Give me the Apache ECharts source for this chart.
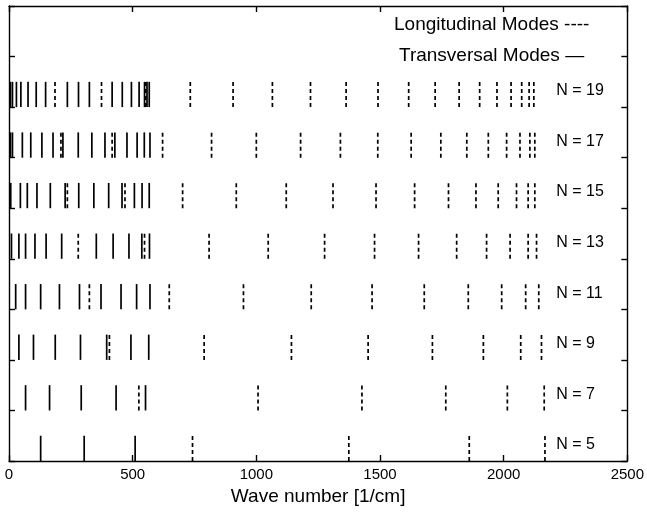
<!DOCTYPE html>
<html>
<head>
<meta charset="utf-8">
<script src="https://cdn.jsdelivr.net/npm/echarts@6/dist/echarts.min.js"></script>
<style>
html,body{margin:0;padding:0;background:#fff;}
#c{width:647px;height:512px;}
</style>
</head>
<body>
<div id="c"></div>
<script>
// ---- data (wave numbers in 1/cm) ----
const rowLabels = ['N = 5', 'N = 7', 'N = 9', 'N = 11', 'N = 13', 'N = 15', 'N = 17', 'N = 19'];

const trans5  = [128, 304, 510];
const long5   = [742, 1374, 1861, 2167];
const trans7  = [67, 164, 292, 433, 552];
const long7   = [525, 1007, 1427, 1766, 2015, 2164];
const trans9  = [40, 99, 187, 289, 395, 493, 565];
const long9   = [406, 789, 1142, 1452, 1712, 1918, 2069, 2153];
const trans11 = [27, 67, 128, 204, 285, 372, 453, 516, 570];
const long11  = [325, 648, 948, 1222, 1468, 1679, 1857, 1992, 2089, 2142];
const trans13 = [10, 40, 67, 105, 150, 213, 353, 421, 485, 537, 568];
const long13  = [280, 548, 809, 1048, 1276, 1478, 1656, 1810, 1931, 2026, 2099, 2133];
const trans15 = [7, 46, 74, 113, 167, 227, 282, 343, 403, 457, 507, 538, 567];
const long15  = [236, 469, 702, 919, 1121, 1310, 1484, 1640, 1777, 1888, 1978, 2052, 2099, 2126];
const trans17 = [6, 14, 54, 88, 133, 178, 218, 280, 335, 388, 428, 477, 518, 547, 570];
const long17  = [210, 417, 621, 819, 1000, 1179, 1340, 1491, 1626, 1746, 1851, 1938, 2012, 2066, 2106, 2126];
const trans19 = [6, 14, 30, 48, 77, 110, 148, 236, 281, 325, 417, 458, 495, 526, 548, 558, 567];
const long19  = [186, 374, 553, 733, 906, 1065, 1219, 1363, 1492, 1616, 1723, 1820, 1903, 1973, 2030, 2073, 2103, 2122];

const xMin = 0, xMax = 2500, xStep = 500;
const yMin = 0, yMax = 9, yStep = 1;

const legendLong = 'Longitudinal Modes ----';
const legendTrans = 'Transversal Modes \u2014';
const xTitle = 'Wave number [1/cm]';

// ---- build series data ----
const transRows = [trans5, trans7, trans9, trans11, trans13, trans15, trans17, trans19];
const longRows  = [long5, long7, long9, long11, long13, long15, long17, long19];
const transData = [];
transRows.forEach((arr, k) => arr.forEach(v => transData.push([v, k])));
const longData = [];
longRows.forEach((arr, k) => arr.forEach(v => longData.push([v, k])));
const labelData = rowLabels.map((s, k) => [xMax, k, s]);

const FONT = '"Liberation Sans", Arial, Helvetica, sans-serif';
const BAR_H = 0.5; // height of each mode mark in row units

function modeRenderer(dash) {
  return function (params, api) {
    const x = api.value(0), k = api.value(1);
    const p0 = api.coord([x, k]);
    const p1 = api.coord([x, k + BAR_H]);
    return {
      type: 'line',
      silent: true,
      shape: { x1: p0[0], y1: p0[1], x2: p1[0], y2: p1[1] },
      style: { stroke: '#000', lineWidth: 1.7, lineDash: dash }
    };
  };
}

function labelRenderer(params, api) {
  const k = api.value(1);
  const p = api.coord([api.value(0), k + 0.25]);
  return {
    type: 'text',
    silent: true,
    x: p[0] - 71,
    y: p[1] - 3.5,
    style: {
      text: rowLabels[params.dataIndex],
      fill: '#000',
      font: '16px ' + FONT,
      align: 'left',
      verticalAlign: 'middle'
    }
  };
}

const axisLine = { show: true, onZero: false, lineStyle: { color: '#000', width: 1.4 } };
const axisTick = { show: true, inside: true, length: 6, lineStyle: { color: '#000', width: 1.4 } };

const chart = echarts.init(document.getElementById('c'), null, { renderer: 'canvas' });
chart.setOption({
  animation: false,
  backgroundColor: '#fff',
  grid: { left: 9, right: 18, top: 6, bottom: 51, containLabel: false },
  xAxis: [
    {
      type: 'value', min: xMin, max: xMax, interval: xStep, position: 'bottom',
      axisLine: axisLine, axisTick: axisTick, splitLine: { show: false },
      axisLabel: { color: '#000', fontSize: 15, fontFamily: FONT, margin: 6,
                   formatter: v => String(v) },
      name: xTitle, nameLocation: 'middle', nameGap: 23,
      nameTextStyle: { color: '#000', fontSize: 19, fontFamily: FONT }
    },
    {
      type: 'value', min: xMin, max: xMax, interval: xStep, position: 'top',
      axisLine: axisLine, axisTick: axisTick, splitLine: { show: false },
      axisLabel: { show: false }
    }
  ],
  yAxis: [
    {
      type: 'value', min: yMin, max: yMax, interval: yStep, position: 'left',
      axisLine: axisLine, axisTick: axisTick, splitLine: { show: false },
      axisLabel: { show: false }
    },
    {
      type: 'value', min: yMin, max: yMax, interval: yStep, position: 'right',
      axisLine: axisLine, axisTick: axisTick, splitLine: { show: false },
      axisLabel: { show: false }
    }
  ],
  graphic: [
    { type: 'text', x: 394, y: 25, silent: true,
      style: { text: legendLong, fill: '#000', font: '19px ' + FONT, align: 'left', verticalAlign: 'middle' } },
    { type: 'text', x: 399, y: 56, silent: true,
      style: { text: legendTrans, fill: '#000', font: '19px ' + FONT, align: 'left', verticalAlign: 'middle' } }
  ],
  series: [
    { name: 'Transversal', type: 'custom', xAxisIndex: 0, yAxisIndex: 0,
      encode: { x: 0, y: 1 }, data: transData, renderItem: modeRenderer(null), clip: false },
    { name: 'Longitudinal', type: 'custom', xAxisIndex: 0, yAxisIndex: 0,
      encode: { x: 0, y: 1 }, data: longData, renderItem: modeRenderer([4, 3]), clip: false },
    { name: 'Labels', type: 'custom', xAxisIndex: 0, yAxisIndex: 0,
      encode: { x: 0, y: 1 }, data: labelData, renderItem: labelRenderer, clip: false }
  ]
});
</script>
</body>
</html>
